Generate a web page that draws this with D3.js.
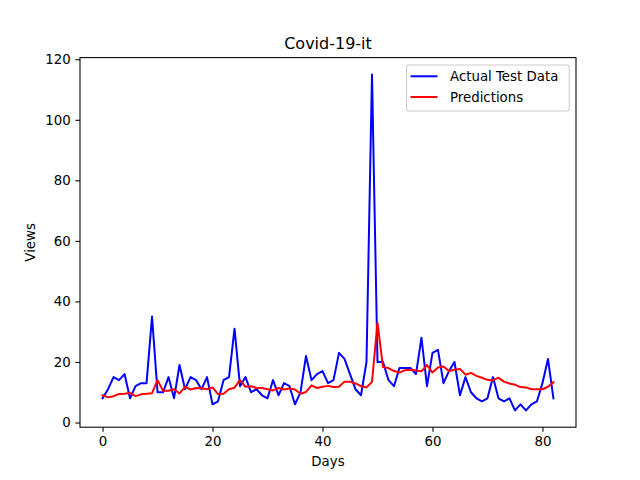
<!DOCTYPE html>
<html>
<head>
<meta charset="utf-8">
<script src="https://cdn.jsdelivr.net/npm/d3@7"></script>
<style>
  body { margin: 0; background: #fff; }
  svg { display: block; font-family: "DejaVu Sans", sans-serif; }
  .tick text { font-size: 13.33px; fill: #000; }
</style>
</head>
<body>
<svg id="chart" width="640" height="480"></svg>
<script>
// values, one per day
const actual = [8, 11, 15, 14, 16, 8, 12, 13, 13, 35,
  10, 10, 15, 8, 19, 11, 15, 14, 11, 15,
  6, 7, 14, 15, 31, 12, 15, 10, 11, 9,
  8, 14, 9, 13, 12, 6, 10, 22, 14, 16,
  17, 13, 14, 23, 21, 16, 11, 9, 20, 115,
  20, 20, 14, 12, 18, 18, 18, 16, 28, 12,
  23, 24, 13, 17, 20, 9, 15, 10, 8, 7,
  8, 15, 8, 7, 8, 4, 6, 4, 6, 7,
  13, 21, 8];
const predicted = [9.0, 8.3, 8.7, 9.4, 9.5, 9.8, 8.7, 9.3, 9.5, 9.7,
  14.0, 10.5, 10.5, 11.0, 9.6, 11.8, 10.9, 11.4, 11.3, 11.0,
  11.6, 9.4, 9.5, 11.0, 11.5, 14.0, 11.8, 12.0, 11.4, 11.4,
  11.0, 10.6, 11.4, 10.9, 11.2, 10.9, 9.5, 10.1, 12.3, 11.4,
  11.8, 12.1, 11.7, 11.8, 13.5, 13.5, 12.9, 12.0, 11.6, 13.4,
  33.0, 18.3, 18.0, 17.0, 16.5, 17.3, 17.4, 17.2, 16.9, 19.0,
  16.5, 18.2, 18.5, 17.0, 17.4, 17.7, 15.8, 16.4, 15.4, 14.8,
  14.1, 13.9, 14.8, 13.5, 12.9, 12.5, 11.7, 11.6, 11.0, 11.0,
  11.0, 11.8, 13.3];
const xTicks = [0, 20, 40, 60, 80];
const yTicks = [0, 20, 40, 60, 80, 100, 120];
const seriesNames = ["Actual Test Data", "Predictions"];
const seriesColors = ["#0000ff", "#ff0000"];

const svg = d3.select("#chart");
const W = 640, H = 480;
const m = { left: 80, right: 576, top: 57.6, bottom: 427.2 };

// matplotlib style 5% padding around the data
const n = actual.length;
const xPad = (n - 1) * 0.05;
const all = actual.concat(predicted);
const yMin = d3.min(all), yMax = d3.max(all);
const yPad = (yMax - yMin) * 0.05;

const x = d3.scaleLinear().domain([-xPad, n - 1 + xPad]).range([m.left, m.right]);
const y = d3.scaleLinear().domain([yMin - yPad, yMax + yPad]).range([m.bottom, m.top]);

svg.append("rect").attr("width", W).attr("height", H).attr("fill", "#fff");

svg.append("clipPath").attr("id", "plot")
  .append("rect")
  .attr("x", m.left).attr("y", m.top)
  .attr("width", m.right - m.left).attr("height", m.bottom - m.top);

const line = d3.line()
  .x((d, i) => x(i))
  .y(d => y(d));

const plot = svg.append("g").attr("clip-path", "url(#plot)");
[actual, predicted].forEach((s, k) => {
  plot.append("path")
    .datum(s)
    .attr("fill", "none")
    .attr("stroke", seriesColors[k])
    .attr("stroke-width", 2)
    .attr("stroke-linejoin", "round")
    .attr("stroke-linecap", "square")
    .attr("d", line);
});

// axes
const axisX = svg.append("g")
  .attr("transform", `translate(0,${m.bottom})`)
  .call(d3.axisBottom(x).tickValues(xTicks).tickSize(4.67).tickPadding(4.67).tickFormat(d3.format("d")));
const axisY = svg.append("g")
  .attr("transform", `translate(${m.left},0)`)
  .call(d3.axisLeft(y).tickValues(yTicks).tickSize(4.67).tickPadding(4.67).tickFormat(d3.format("d")));

[axisX, axisY].forEach(a => {
  a.select(".domain").remove();
  a.selectAll(".tick line").attr("stroke", "#000").attr("stroke-width", 1.07);
  a.selectAll(".tick text").style("font-family", "DejaVu Sans");
});

// frame
svg.append("rect")
  .attr("x", m.left).attr("y", m.top)
  .attr("width", m.right - m.left).attr("height", m.bottom - m.top)
  .attr("fill", "none")
  .attr("stroke", "#000")
  .attr("stroke-width", 1.07);

// labels
svg.append("text")
  .attr("x", (m.left + m.right) / 2).attr("y", 49)
  .attr("text-anchor", "middle")
  .attr("font-size", 16)
  .text("Covid-19-it");

svg.append("text")
  .attr("x", (m.left + m.right) / 2).attr("y", 466)
  .attr("text-anchor", "middle")
  .attr("font-size", 13.33)
  .text("Days");

svg.append("text")
  .attr("transform", `translate(35,${(m.top + m.bottom) / 2}) rotate(-90)`)
  .attr("text-anchor", "middle")
  .attr("font-size", 13.33)
  .text("Views");

// legend, upper right
const legend = svg.append("g");
legend.append("rect")
  .attr("x", 406.5).attr("y", 65)
  .attr("width", 162.8).attr("height", 46)
  .attr("rx", 2.5)
  .attr("fill", "#fff").attr("fill-opacity", 0.8)
  .attr("stroke", "#cccccc").attr("stroke-width", 1.07);

seriesNames.forEach((name, k) => {
  const cy = 76.3 + k * 20.7;
  legend.append("line")
    .attr("x1", 410.5).attr("x2", 437.5)
    .attr("y1", cy).attr("y2", cy)
    .attr("stroke", seriesColors[k]).attr("stroke-width", 2);
  legend.append("text")
    .attr("x", 450).attr("y", cy)
    .attr("dy", "0.36em")
    .attr("font-size", 13.33)
    .text(name);
});
</script>
</body>
</html>
